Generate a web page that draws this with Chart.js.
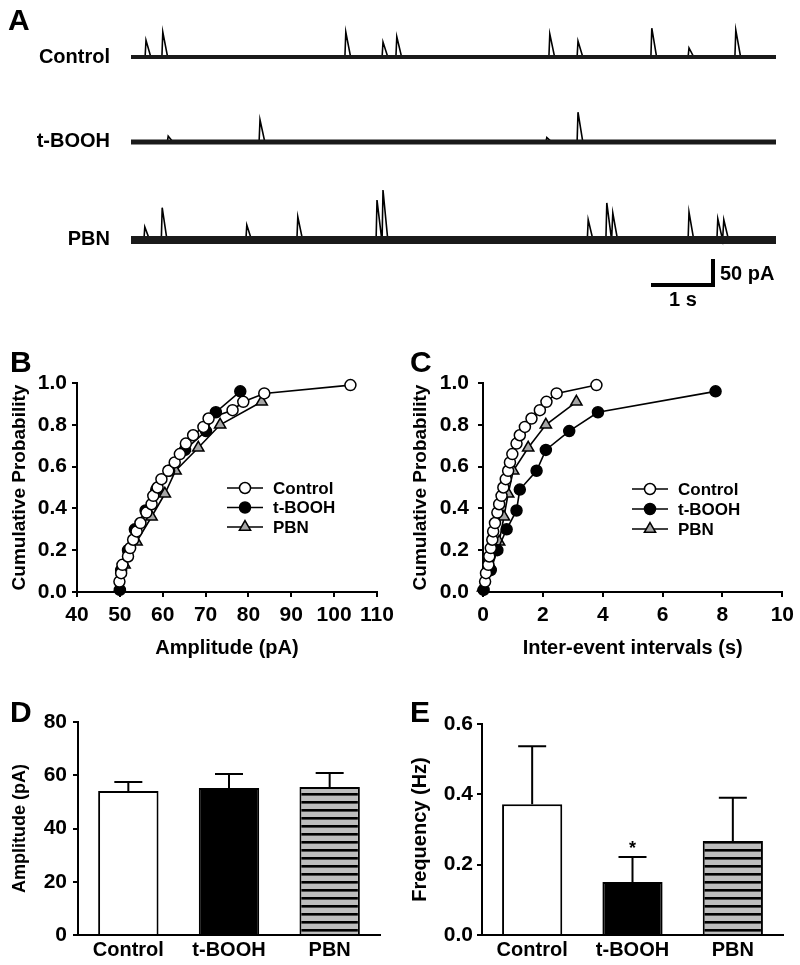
<!DOCTYPE html>
<html>
<head>
<meta charset="utf-8">
<script src="https://cdn.jsdelivr.net/npm/chart.js@4.4.1/dist/chart.umd.min.js"></script>
<style>
body{margin:0;background:#fff;}
#page{position:relative;width:800px;height:965px;overflow:hidden;background:#fff;}
canvas{position:absolute;}
</style>
</head>
<body>
<div id="page">
<canvas id="tracos" width="800" height="320" style="left:0;top:0"></canvas>
<canvas id="amp" width="400" height="335" style="left:0;top:330px"></canvas>
<canvas id="ivi" width="400" height="335" style="left:400px;top:330px"></canvas>
<canvas id="barAmp" width="400" height="300" style="left:0;top:665px"></canvas>
<canvas id="barFreq" width="400" height="300" style="left:400px;top:665px"></canvas>
</div>
<script>
// grupos
var grupos = ["Control", "t-BOOH", "PBN"];

// A - eventos nos tracos (tempo em s, amplitude em pA)
var duracao = 10.75;
var tempoControl = [0.25, 0.53, 3.58, 4.20, 4.43, 6.98, 7.45, 8.68, 9.30, 10.08];
var ampEventoControl = [35, 52, 52, 31, 42, 48, 33, 60, 19, 56];
var tempoTbooh = [0.62, 2.15, 6.93, 7.45];
var ampEventoTbooh = [12, 46, 9, 62];
var tempoPbn = [0.23, 0.52, 1.93, 2.78, 4.10, 4.20, 7.62, 7.93, 8.03, 9.30, 9.78, 9.88];
var ampEventoPbn = [27, 67, 31, 48, 83, 104, 42, 77, 56, 58, 44, 42];
var barraTempo = 1;   // s
var barraCorrente = 50; // pA

// B e C - probabilidade cumulativa
var probControl = [0.05, 0.09, 0.13, 0.17, 0.21, 0.25, 0.29, 0.33, 0.38, 0.42, 0.46, 0.50, 0.54, 0.58, 0.62, 0.66, 0.71, 0.75, 0.79, 0.83, 0.87, 0.91, 0.95, 0.99];
var ampControl = [49.9, 50.3, 50.6, 51.9, 52.4, 53.1, 53.9, 54.8, 56.2, 57.4, 57.8, 58.8, 59.7, 61.3, 62.8, 64.0, 65.4, 67.1, 69.5, 70.7, 76.3, 78.8, 83.7, 103.8];
var intervControl = [0.07, 0.10, 0.18, 0.21, 0.26, 0.31, 0.34, 0.40, 0.48, 0.54, 0.62, 0.68, 0.76, 0.84, 0.90, 0.98, 1.12, 1.23, 1.40, 1.62, 1.90, 2.12, 2.46, 3.79];
var probTbooh = [0.01, 0.105, 0.20, 0.30, 0.39, 0.49, 0.58, 0.68, 0.77, 0.86, 0.96];
var ampTbooh = [50.0, 50.3, 51.9, 53.5, 56.0, 58.5, 61.5, 65.2, 70.1, 72.4, 78.1];
var intervTbooh = [0.02, 0.26, 0.48, 0.79, 1.12, 1.23, 1.79, 2.10, 2.88, 3.84, 7.77];
var probPbn = [0.02, 0.13, 0.24, 0.36, 0.47, 0.58, 0.69, 0.80, 0.91];
var ampPbn = [50.0, 51.1, 53.9, 57.4, 60.5, 63.0, 68.3, 73.4, 83.1];
var intervPbn = [0.0, 0.23, 0.54, 0.70, 0.84, 1.01, 1.51, 2.10, 3.12];

// D e E - medias e erro padrao
var ampMedia = [54.1, 55.2, 55.6];
var ampErro = [3.4, 5.3, 5.2];
var freqMedia = [0.372, 0.151, 0.267];
var freqErro = [0.165, 0.071, 0.123];
var freqMarca = ["", "*", ""];

var fonte = "'Liberation Sans', Arial, Helvetica, sans-serif";
Chart.defaults.font.family = fonte;
Chart.defaults.font.weight = "bold";
Chart.defaults.color = "#000";
var tamTick = 21;

// deslocamento vertical de cada traco (pA), so layout
var deslocamento = [0, -177, -381];
var pxPorPa = 24 / 50;
var yAlto = 57 / pxPorPa;
var yBaixo = yAlto - 320 / pxPorPa;

function montarTraco(tempos, amps, desl){
    var pts = [{x: 0, y: desl}];
    for (var i = 0; i < tempos.length; i++){
        pts.push({x: tempos[i] - 0.015, y: desl});
        pts.push({x: tempos[i], y: desl + amps[i]});
        pts.push({x: tempos[i] + 0.08, y: desl});
    }
    pts.push({x: duracao, y: desl});
    return pts;
}
function faixa(desl, largura){
    return {data: [{x: 0, y: desl}, {x: duracao, y: desl}], borderColor: "#1a1a1a", borderWidth: largura, pointRadius: 0, borderCapStyle: "butt"};
}
function linha(pts){
    return {data: pts, borderColor: "#000", borderWidth: 1.6, pointRadius: 0, tension: 0};
}
function pares(xs, ys){
    return xs.map(function(v, i){ return {x: v, y: ys[i]}; });
}

var pluginNotas = {
    id: "notas",
    afterDraw: function(chart){
        var notas = chart.config._config.notas || [];
        var ctx = chart.ctx;
        ctx.save();
        ctx.fillStyle = "#000";
        notas.forEach(function(n){
            ctx.font = "bold " + n.tam + "px " + fonte;
            ctx.textAlign = n.alinha || "left";
            ctx.textBaseline = n.base || "alphabetic";
            ctx.fillText(n.texto, n.x, n.y);
        });
        ctx.restore();
    }
};

var pluginTracos = {
    id: "rotulosTraco",
    afterDraw: function(chart){
        var ctx = chart.ctx, xs = chart.scales.x, ys = chart.scales.y;
        ctx.save();
        ctx.fillStyle = "#000";
        ctx.font = "bold 20px " + fonte;
        ctx.textAlign = "right";
        ctx.textBaseline = "middle";
        grupos.forEach(function(g, i){
            ctx.fillText(g, 110, ys.getPixelForValue(deslocamento[i]));
        });
        // barra de escala
        var t0 = 8.7, yb = -475;
        var xa = xs.getPixelForValue(t0), xb = xs.getPixelForValue(t0 + barraTempo);
        var ya = ys.getPixelForValue(yb), yc = ys.getPixelForValue(yb + barraCorrente);
        ctx.strokeStyle = "#000";
        ctx.lineWidth = 4;
        ctx.lineCap = "square";
        ctx.beginPath();
        ctx.moveTo(xa, ya); ctx.lineTo(xb, ya); ctx.lineTo(xb, yc);
        ctx.stroke();
        ctx.textAlign = "left";
        ctx.fillText(barraCorrente + " pA", xb + 7, (ya + yc) / 2 + 1);
        ctx.textAlign = "center";
        ctx.fillText(barraTempo + " s", (xa + xb) / 2, ya + 15);
        ctx.restore();
    }
};

var pluginLegenda = {
    id: "legendaLinha",
    afterDraw: function(chart){
        var cfg = chart.config._config.legenda;
        if (!cfg) return;
        var ctx = chart.ctx;
        ctx.save();
        chart.data.datasets.forEach(function(ds, i){
            var y = cfg.y + i * cfg.passo;
            ctx.strokeStyle = "#000";
            ctx.lineWidth = 1.6;
            ctx.beginPath();
            ctx.moveTo(cfg.x, y); ctx.lineTo(cfg.x + cfg.comp, y);
            ctx.stroke();
            ctx.fillStyle = ds.pointBackgroundColor;
            ctx.strokeStyle = "#000";
            ctx.lineWidth = ds.pointBorderWidth;
            Chart.helpers.drawPoint(ctx, {pointStyle: ds.pointStyle, radius: ds.pointRadius, borderWidth: ds.pointBorderWidth, rotation: 0}, cfg.x + cfg.comp / 2, y);
            ctx.fillStyle = "#000";
            ctx.font = "bold 17px " + fonte;
            ctx.textAlign = "left";
            ctx.textBaseline = "middle";
            ctx.fillText(ds.label, cfg.x + cfg.comp + 10, y + 1);
        });
        ctx.restore();
    }
};

var pluginErro = {
    id: "barraErro",
    afterDatasetsDraw: function(chart){
        var ds = chart.data.datasets[0];
        var meta = chart.getDatasetMeta(0);
        var ys = chart.scales.y, ctx = chart.ctx;
        ctx.save();
        ctx.strokeStyle = "#000";
        ctx.lineWidth = 2;
        meta.data.forEach(function(bar, i){
            var topo = ys.getPixelForValue(ds.data[i] + ds.erros[i]);
            ctx.beginPath();
            ctx.moveTo(bar.x, bar.y); ctx.lineTo(bar.x, topo);
            ctx.moveTo(bar.x - 14, topo); ctx.lineTo(bar.x + 14, topo);
            ctx.stroke();
            if (ds.marcas && ds.marcas[i]){
                ctx.fillStyle = "#000";
                ctx.font = "bold 18px " + fonte;
                ctx.textAlign = "center";
                ctx.textBaseline = "alphabetic";
                ctx.fillText(ds.marcas[i], bar.x, topo - 3);
            }
        });
        ctx.restore();
    }
};

function eixo(extra){
    var base = {
        grid: {drawOnChartArea: false, color: "#000", tickColor: "#000", tickLength: 5, lineWidth: 2},
        border: {color: "#000", width: 2},
        ticks: {color: "#000", font: {size: tamTick, weight: "bold"}}
    };
    return Object.assign(base, extra);
}

function opcoesCumulativas(xMin, xMax, xPasso, xTitulo, larguraY, padDir, padTick, padTitulo){
    return {
        responsive: false, animation: false, devicePixelRatio: 1,
        layout: {padding: {left: 0, right: padDir, top: 53, bottom: 0}},
        scales: {
            x: eixo({type: "linear", min: xMin, max: xMax,
                ticks: {stepSize: xPasso, color: "#000", font: {size: tamTick, weight: "bold"}, padding: 6},
                title: {display: true, text: xTitulo, color: "#000", font: {size: 20, weight: "bold"}, padding: {top: 0, bottom: 5}},
                afterFit: function(s){ s.height = 73; }}),
            y: eixo({min: 0, max: 1,
                ticks: {stepSize: 0.2, color: "#000", font: {size: tamTick, weight: "bold"}, padding: padTick,
                    callback: function(v){ return Number(v).toFixed(1); }},
                title: {display: true, text: "Cumulative Probability", color: "#000", font: {size: 19, weight: "bold"}, padding: {top: padTitulo, bottom: 0}},
                afterFit: function(s){ s.width = larguraY; }})
        },
        plugins: {legend: {display: false}, tooltip: {enabled: false}}
    };
}

function seriesCumulativas(xc, xt, xp){
    return [
        {label: grupos[0], data: pares(xc, probControl), showLine: true, borderColor: "#000", borderWidth: 1.6,
         pointStyle: "circle", pointRadius: 5.5, pointBorderWidth: 1.5, pointBackgroundColor: "#fff", pointBorderColor: "#000", clip: false},
        {label: grupos[1], data: pares(xt, probTbooh), showLine: true, borderColor: "#000", borderWidth: 1.6,
         pointStyle: "circle", pointRadius: 5.5, pointBorderWidth: 1.5, pointBackgroundColor: "#000", pointBorderColor: "#000", clip: false},
        {label: grupos[2], data: pares(xp, probPbn), showLine: true, borderColor: "#000", borderWidth: 1.6,
         pointStyle: "triangle", pointRadius: 6.5, pointBorderWidth: 1.5, pointBackgroundColor: "#a6a6a6", pointBorderColor: "#000", clip: false}
    ];
}

function listras(){
    var c = document.createElement("canvas");
    c.width = 8; c.height = 8;
    var g = c.getContext("2d");
    g.fillStyle = "#bdbdbd";
    g.fillRect(0, 0, 8, 8);
    g.fillStyle = "#000";
    g.fillRect(0, 0, 8, 2.6);
    return g.createPattern(c, "repeat");
}

function opcoesBarras(yMax, yPasso, casas, yTitulo, tamTitulo, padTitulo, larguraY, padTop, padDir, padTick){
    return {
        responsive: false, animation: false, devicePixelRatio: 1,
        layout: {padding: {left: 0, right: padDir, top: padTop, bottom: 0}},
        scales: {
            x: eixo({type: "category",
                grid: {drawOnChartArea: false, drawTicks: false, color: "#000"},
                ticks: {color: "#000", font: {size: 20, weight: "bold"}, padding: 3},
                afterFit: function(s){ s.height = 30; }}),
            y: eixo({min: 0, max: yMax,
                ticks: {stepSize: yPasso, color: "#000", font: {size: tamTick, weight: "bold"}, padding: padTick,
                    callback: function(v){ return Number(v).toFixed(casas); }},
                title: {display: true, text: yTitulo, color: "#000", font: {size: tamTitulo, weight: "bold"}, padding: {top: padTitulo, bottom: 0}},
                afterFit: function(s){ s.width = larguraY; }})
        },
        plugins: {legend: {display: false}, tooltip: {enabled: false}}
    };
}

function seriesBarras(medias, erros, marcas){
    return [{
        data: medias, erros: erros, marcas: marcas,
        backgroundColor: ["#fff", "#000", listras()],
        borderColor: "#000", borderWidth: 2,
        barPercentage: 0.6, categoryPercentage: 1
    }];
}

// A
new Chart(document.getElementById("tracos"), {
    type: "line",
    data: {datasets: [
        faixa(deslocamento[0], 4), linha(montarTraco(tempoControl, ampEventoControl, deslocamento[0])),
        faixa(deslocamento[1], 5), linha(montarTraco(tempoTbooh, ampEventoTbooh, deslocamento[1])),
        faixa(deslocamento[2], 8), linha(montarTraco(tempoPbn, ampEventoPbn, deslocamento[2]))
    ]},
    options: {
        responsive: false, animation: false, devicePixelRatio: 1,
        layout: {padding: {left: 131, right: 24, top: 0, bottom: 0}},
        scales: {x: {type: "linear", display: false, min: 0, max: duracao}, y: {display: false, min: yBaixo, max: yAlto}},
        plugins: {legend: {display: false}, tooltip: {enabled: false}}
    },
    notas: [{texto: "A", x: 8, y: 30, tam: 30}],
    plugins: [pluginTracos, pluginNotas]
});

// B
new Chart(document.getElementById("amp"), {
    type: "scatter",
    data: {datasets: seriesCumulativas(ampControl, ampTbooh, ampPbn)},
    options: opcoesCumulativas(40, 110, 10, "Amplitude (pA)", 77, 23, 5, 8),
    legenda: {x: 227, y: 158, passo: 19.5, comp: 36},
    notas: [{texto: "B", x: 10, y: 42, tam: 30}],
    plugins: [pluginLegenda, pluginNotas]
});

// C
new Chart(document.getElementById("ivi"), {
    type: "scatter",
    data: {datasets: seriesCumulativas(intervControl, intervTbooh, intervPbn)},
    options: opcoesCumulativas(0, 10, 2, "Inter-event intervals (s)", 83, 17, 9, 9),
    legenda: {x: 232, y: 159, passo: 20, comp: 36},
    notas: [{texto: "C", x: 10, y: 42, tam: 30}],
    plugins: [pluginLegenda, pluginNotas]
});

// D
new Chart(document.getElementById("barAmp"), {
    type: "bar",
    data: {labels: grupos, datasets: seriesBarras(ampMedia, ampErro, null)},
    options: opcoesBarras(80, 20, 0, "Amplitude (pA)", 18, 9, 78, 57, 20, 6),
    notas: [{texto: "D", x: 10, y: 57, tam: 30}],
    plugins: [pluginErro, pluginNotas]
});

// E
new Chart(document.getElementById("barFreq"), {
    type: "bar",
    data: {labels: grupos, datasets: seriesBarras(freqMedia, freqErro, freqMarca)},
    options: opcoesBarras(0.6, 0.2, 1, "Frequency (Hz)", 20, 8, 82, 59, 17, 4),
    notas: [{texto: "E", x: 10, y: 57, tam: 30}],
    plugins: [pluginErro, pluginNotas]
});
</script>
</body>
</html>
